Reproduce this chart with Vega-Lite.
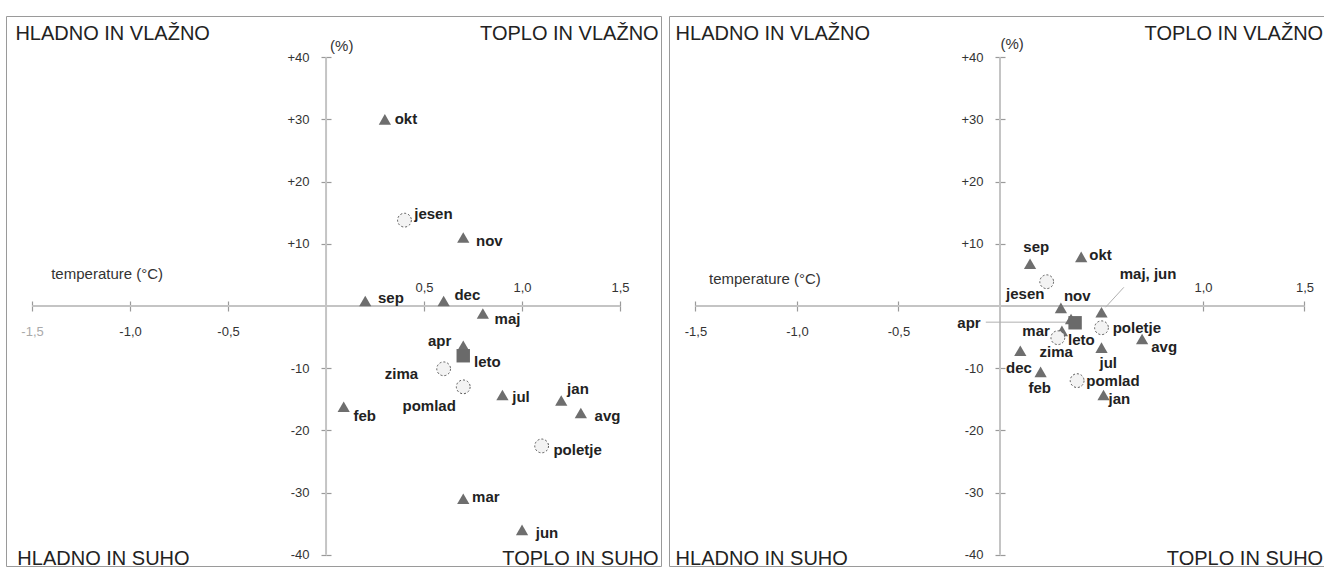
{
  "$schema": "https://vega.github.io/schema/vega-lite/v6.json",
  "background": "white",
  "padding": {"left": 5, "top": 15, "right": 0, "bottom": 0},
  "spacing": 6,
  "config": {
    "font": "Liberation Sans",
    "view": {"stroke": "#9a9a9a", "strokeWidth": 1},
    "axis": {"grid": false, "domain": false, "title": null, "tickColor": "#9a9a9a", "tickWidth": 1.2, "tickSize": 5, "labelFont": "Liberation Sans", "labelFontSize": 13, "labelColor": "#333333"}
  },
  "datasets": {
    "pts": [
      {"panel": "L", "kind": "m", "name": "okt", "x": 0.30, "y": 30, "lx": 0.35, "ly": 30},
      {"panel": "L", "kind": "m", "name": "nov", "x": 0.70, "y": 11, "lx": 0.765, "ly": 10.5},
      {"panel": "L", "kind": "m", "name": "sep", "x": 0.20, "y": 0.8, "lx": 0.265, "ly": 1.3},
      {"panel": "L", "kind": "m", "name": "dec", "x": 0.60, "y": 0.8, "lx": 0.655, "ly": 1.8},
      {"panel": "L", "kind": "m", "name": "maj", "x": 0.80, "y": -1.2, "lx": 0.86, "ly": -2.1},
      {"panel": "L", "kind": "m", "name": "apr", "x": 0.70, "y": -6.4, "lx": 0.52, "ly": -5.6},
      {"panel": "L", "kind": "m", "name": "jul", "x": 0.90, "y": -14.3, "lx": 0.95, "ly": -14.6},
      {"panel": "L", "kind": "m", "name": "jan", "x": 1.20, "y": -15.2, "lx": 1.23, "ly": -13.4},
      {"panel": "L", "kind": "m", "name": "avg", "x": 1.30, "y": -17.2, "lx": 1.37, "ly": -17.7},
      {"panel": "L", "kind": "m", "name": "feb", "x": 0.09, "y": -16.2, "lx": 0.14, "ly": -17.7},
      {"panel": "L", "kind": "m", "name": "mar", "x": 0.70, "y": -31, "lx": 0.745, "ly": -30.7},
      {"panel": "L", "kind": "m", "name": "jun", "x": 1.00, "y": -36, "lx": 1.07, "ly": -36.5},
      {"panel": "L", "kind": "s", "name": "jesen", "x": 0.40, "y": 13.8, "lx": 0.45, "ly": 14.8},
      {"panel": "L", "kind": "s", "name": "zima", "x": 0.60, "y": -10.1, "lx": 0.30, "ly": -11},
      {"panel": "L", "kind": "s", "name": "pomlad", "x": 0.70, "y": -13, "lx": 0.39, "ly": -16},
      {"panel": "L", "kind": "s", "name": "poletje", "x": 1.10, "y": -22.5, "lx": 1.16, "ly": -23.2},
      {"panel": "L", "kind": "y", "name": "leto", "x": 0.70, "y": -8, "lx": 0.755, "ly": -9},
      {"panel": "R", "kind": "m", "name": "sep", "x": 0.148, "y": 6.8, "lx": 0.115, "ly": 9.5},
      {"panel": "R", "kind": "m", "name": "okt", "x": 0.40, "y": 7.9, "lx": 0.44, "ly": 8.2},
      {"panel": "R", "kind": "m", "name": "nov", "x": 0.30, "y": -0.3, "lx": 0.315, "ly": 1.6},
      {"panel": "R", "kind": "m", "name": "maj, jun", "x": 0.50, "y": -1, "lx": 0.59, "ly": 5.1},
      {"panel": "R", "kind": "m", "name": "apr", "x": 0.35, "y": -2.1, "lx": -0.21, "ly": -2.7},
      {"panel": "R", "kind": "m", "name": "mar", "x": 0.305, "y": -4, "lx": 0.11, "ly": -4},
      {"panel": "R", "kind": "m", "name": "avg", "x": 0.70, "y": -5.3, "lx": 0.745, "ly": -6.6},
      {"panel": "R", "kind": "m", "name": "jul", "x": 0.50, "y": -6.7, "lx": 0.49, "ly": -9.1},
      {"panel": "R", "kind": "m", "name": "dec", "x": 0.10, "y": -7.2, "lx": 0.03, "ly": -9.9},
      {"panel": "R", "kind": "m", "name": "feb", "x": 0.20, "y": -10.6, "lx": 0.14, "ly": -13.2},
      {"panel": "R", "kind": "m", "name": "jan", "x": 0.51, "y": -14.3, "lx": 0.535, "ly": -15},
      {"panel": "R", "kind": "s", "name": "jesen", "x": 0.23, "y": 3.9, "lx": 0.03, "ly": 1.9},
      {"panel": "R", "kind": "s", "name": "poletje", "x": 0.50, "y": -3.5, "lx": 0.555, "ly": -3.5},
      {"panel": "R", "kind": "s", "name": "zima", "x": 0.285, "y": -5.1, "lx": 0.195, "ly": -7.4},
      {"panel": "R", "kind": "s", "name": "pomlad", "x": 0.38, "y": -12, "lx": 0.425, "ly": -12.1},
      {"panel": "R", "kind": "y", "name": "leto", "x": 0.37, "y": -2.7, "lx": 0.335, "ly": -5.5}
    ],
    "lines": [
      {"x": -1.5, "x2": 1.5, "y": 0, "y2": 0},
      {"x": 0, "x2": 0, "y": -40, "y2": 40}
    ],
    "leaders": [
      {"panel": "R", "x": -0.07, "x2": 0.33, "y": -2.6, "y2": -2.6},
      {"panel": "R", "x": 0.52, "x2": 0.61, "y": -0.2, "y2": 3.0}
    ],
    "corners": [
      {"panel": "L", "side": "left", "text": "HLADNO IN VLAŽNO", "x": -1.585, "y": 43.7},
      {"panel": "L", "side": "right", "text": "TOPLO IN VLAŽNO", "x": 1.697, "y": 43.7},
      {"panel": "L", "side": "left", "text": "HLADNO IN SUHO", "x": -1.575, "y": -40.7},
      {"panel": "L", "side": "right", "text": "TOPLO IN SUHO", "x": 1.697, "y": -40.7},
      {"panel": "R", "side": "left", "text": "HLADNO IN VLAŽNO", "x": -1.598, "y": 43.7},
      {"panel": "R", "side": "right", "text": "TOPLO IN VLAŽNO", "x": 1.592, "y": 43.7},
      {"panel": "R", "side": "left", "text": "HLADNO IN SUHO", "x": -1.598, "y": -40.7},
      {"panel": "R", "side": "right", "text": "TOPLO IN SUHO", "x": 1.592, "y": -40.7}
    ],
    "notes": [
      {"panel": "L", "text": "(%)", "x": 0.08, "y": 41.8},
      {"panel": "L", "text": "temperature (°C)", "x": -1.117, "y": 5.1},
      {"panel": "R", "text": "(%)", "x": 0.06, "y": 42.1},
      {"panel": "R", "text": "temperature (°C)", "x": -1.158, "y": 4.3}
    ]
  },
  "hconcat": [
    {
      "width": 655,
      "height": 550,
      "resolve": {"axis": {"x": "independent", "y": "independent"}},
      "layer": [
        {
          "data": {"name": "lines"},
          "mark": {"type": "rule", "color": "#c4c4c4", "strokeWidth": 2},
          "encoding": {
            "x": {"field": "x", "type": "quantitative", "scale": {"domain": [-1.633, 1.709], "nice": false, "zero": false},
              "axis": {"orient": "bottom", "offset": -260, "values": [-1.5, -1, -0.5, 0.5, 1, 1.5], "labelPadding": 14,
                "labelExpr": "datum.value < 0 ? '-' + replace(format(abs(datum.value), '.1f'), '.', ',') : ''",
                "labelColor": {"condition": {"test": "datum.value == -1.5", "value": "#aaaaaa"}, "value": "#333333"}}},
            "x2": {"field": "x2"},
            "y": {"field": "y", "type": "quantitative", "scale": {"domain": [-41.8, 46.62], "nice": false, "zero": false},
              "axis": {"orient": "left", "offset": -320, "values": [-40, -30, -20, -10, 10, 20, 30, 40], "labelPadding": 12,
                "labelExpr": "datum.value > 0 ? '+' + datum.value : '' + datum.value"}},
            "y2": {"field": "y2"}
          }
        },
        {
          "data": {"name": "pts"},
          "transform": [{"filter": "datum.panel == 'L' && datum.kind == 'm'"}],
          "mark": {"type": "point", "shape": "triangle-up", "filled": true, "size": 150, "color": "#6e6e6e", "opacity": 1},
          "encoding": {
            "x": {"field": "x", "type": "quantitative", "scale": {"domain": [-1.633, 1.709], "nice": false, "zero": false},
              "axis": {"orient": "top", "offset": -290, "values": [-1.5, -1, -0.5, 0.5, 1, 1.5], "labelPadding": 7,
                "labelExpr": "datum.value > 0 ? replace(format(datum.value, '.1f'), '.', ',') : ''"}},
            "y": {"field": "y", "type": "quantitative", "scale": {"domain": [-41.8, 46.62], "nice": false, "zero": false},
              "axis": {"orient": "right", "offset": -335, "values": [-40, -30, -20, -10, 10, 20, 30, 40], "labels": false}}
          }
        },
        {
          "data": {"name": "pts"},
          "transform": [{"filter": "datum.panel == 'L' && datum.kind == 'y'"}],
          "mark": {"type": "point", "shape": "square", "filled": true, "size": 180, "color": "#6a6a6a", "opacity": 1},
          "encoding": {
            "x": {"field": "x", "type": "quantitative", "scale": {"domain": [-1.633, 1.709], "nice": false, "zero": false}, "axis": null},
            "y": {"field": "y", "type": "quantitative", "scale": {"domain": [-41.8, 46.62], "nice": false, "zero": false}, "axis": null}
          }
        },
        {
          "data": {"name": "pts"},
          "transform": [{"filter": "datum.panel == 'L' && datum.kind == 's'"}],
          "mark": {"type": "point", "shape": "circle", "filled": true, "size": 190, "fill": "#f3f3f3", "stroke": "#555555", "strokeWidth": 1, "strokeDash": [2, 2], "opacity": 1},
          "encoding": {
            "x": {"field": "x", "type": "quantitative", "scale": {"domain": [-1.633, 1.709], "nice": false, "zero": false}, "axis": null},
            "y": {"field": "y", "type": "quantitative", "scale": {"domain": [-41.8, 46.62], "nice": false, "zero": false}, "axis": null}
          }
        },
        {
          "data": {"name": "pts"},
          "transform": [{"filter": "datum.panel == 'L'"}],
          "mark": {"type": "text", "align": "left", "baseline": "middle", "fontSize": 15, "fontWeight": "bold", "color": "#222222", "font": "Liberation Sans"},
          "encoding": {
            "x": {"field": "lx", "type": "quantitative", "scale": {"domain": [-1.633, 1.709], "nice": false, "zero": false}, "axis": null},
            "y": {"field": "ly", "type": "quantitative", "scale": {"domain": [-41.8, 46.62], "nice": false, "zero": false}, "axis": null},
            "text": {"field": "name"}
          }
        },
        {
          "data": {"name": "corners"},
          "transform": [{"filter": "datum.panel == 'L' && datum.side == 'left'"}],
          "mark": {"type": "text", "align": "left", "baseline": "middle", "fontSize": 20, "color": "#222222", "font": "Liberation Sans"},
          "encoding": {
            "x": {"field": "x", "type": "quantitative", "scale": {"domain": [-1.633, 1.709], "nice": false, "zero": false}, "axis": null},
            "y": {"field": "y", "type": "quantitative", "scale": {"domain": [-41.8, 46.62], "nice": false, "zero": false}, "axis": null},
            "text": {"field": "text"}
          }
        },
        {
          "data": {"name": "corners"},
          "transform": [{"filter": "datum.panel == 'L' && datum.side == 'right'"}],
          "mark": {"type": "text", "align": "right", "baseline": "middle", "fontSize": 20, "color": "#222222", "font": "Liberation Sans"},
          "encoding": {
            "x": {"field": "x", "type": "quantitative", "scale": {"domain": [-1.633, 1.709], "nice": false, "zero": false}, "axis": null},
            "y": {"field": "y", "type": "quantitative", "scale": {"domain": [-41.8, 46.62], "nice": false, "zero": false}, "axis": null},
            "text": {"field": "text"}
          }
        },
        {
          "data": {"name": "notes"},
          "transform": [{"filter": "datum.panel == 'L'"}],
          "mark": {"type": "text", "align": "center", "baseline": "middle", "fontSize": 15, "color": "#333333", "font": "Liberation Sans"},
          "encoding": {
            "x": {"field": "x", "type": "quantitative", "scale": {"domain": [-1.633, 1.709], "nice": false, "zero": false}, "axis": null},
            "y": {"field": "y", "type": "quantitative", "scale": {"domain": [-41.8, 46.62], "nice": false, "zero": false}, "axis": null},
            "text": {"field": "text"}
          }
        }
      ]
    },
    {
      "width": 656,
      "height": 550,
      "resolve": {"axis": {"x": "independent", "y": "independent"}},
      "layer": [
        {
          "data": {"name": "lines"},
          "mark": {"type": "rule", "color": "#c4c4c4", "strokeWidth": 2},
          "encoding": {
            "x": {"field": "x", "type": "quantitative", "scale": {"domain": [-1.6305, 1.601], "nice": false, "zero": false},
              "axis": {"orient": "bottom", "offset": -260, "values": [-1.5, -1, -0.5, 1, 1.5], "labelPadding": 14,
                "labelExpr": "datum.value < 0 ? '-' + replace(format(abs(datum.value), '.1f'), '.', ',') : ''"}},
            "x2": {"field": "x2"},
            "y": {"field": "y", "type": "quantitative", "scale": {"domain": [-41.8, 46.62], "nice": false, "zero": false},
              "axis": {"orient": "left", "offset": -331, "values": [-40, -30, -20, -10, 10, 20, 30, 40], "labelPadding": 12,
                "labelExpr": "datum.value > 0 ? '+' + datum.value : '' + datum.value"}},
            "y2": {"field": "y2"}
          }
        },
        {
          "data": {"name": "leaders"},
          "mark": {"type": "rule", "color": "#b0b0b0", "strokeWidth": 1},
          "encoding": {
            "x": {"field": "x", "type": "quantitative", "scale": {"domain": [-1.6305, 1.601], "nice": false, "zero": false}, "axis": null},
            "x2": {"field": "x2"},
            "y": {"field": "y", "type": "quantitative", "scale": {"domain": [-41.8, 46.62], "nice": false, "zero": false}, "axis": null},
            "y2": {"field": "y2"}
          }
        },
        {
          "data": {"name": "pts"},
          "transform": [{"filter": "datum.panel == 'R' && datum.kind == 'm'"}],
          "mark": {"type": "point", "shape": "triangle-up", "filled": true, "size": 150, "color": "#6e6e6e", "opacity": 1},
          "encoding": {
            "x": {"field": "x", "type": "quantitative", "scale": {"domain": [-1.6305, 1.601], "nice": false, "zero": false},
              "axis": {"orient": "top", "offset": -290, "values": [-1.5, -1, -0.5, 1, 1.5], "labelPadding": 7,
                "labelExpr": "datum.value > 0 ? replace(format(datum.value, '.1f'), '.', ',') : ''"}},
            "y": {"field": "y", "type": "quantitative", "scale": {"domain": [-41.8, 46.62], "nice": false, "zero": false},
              "axis": {"orient": "right", "offset": -325, "values": [-40, -30, -20, -10, 10, 20, 30, 40], "labels": false}}
          }
        },
        {
          "data": {"name": "pts"},
          "transform": [{"filter": "datum.panel == 'R' && datum.kind == 'y'"}],
          "mark": {"type": "point", "shape": "square", "filled": true, "size": 180, "color": "#6a6a6a", "opacity": 1},
          "encoding": {
            "x": {"field": "x", "type": "quantitative", "scale": {"domain": [-1.6305, 1.601], "nice": false, "zero": false}, "axis": null},
            "y": {"field": "y", "type": "quantitative", "scale": {"domain": [-41.8, 46.62], "nice": false, "zero": false}, "axis": null}
          }
        },
        {
          "data": {"name": "pts"},
          "transform": [{"filter": "datum.panel == 'R' && datum.kind == 's'"}],
          "mark": {"type": "point", "shape": "circle", "filled": true, "size": 190, "fill": "#f3f3f3", "stroke": "#555555", "strokeWidth": 1, "strokeDash": [2, 2], "opacity": 1},
          "encoding": {
            "x": {"field": "x", "type": "quantitative", "scale": {"domain": [-1.6305, 1.601], "nice": false, "zero": false}, "axis": null},
            "y": {"field": "y", "type": "quantitative", "scale": {"domain": [-41.8, 46.62], "nice": false, "zero": false}, "axis": null}
          }
        },
        {
          "data": {"name": "pts"},
          "transform": [{"filter": "datum.panel == 'R'"}],
          "mark": {"type": "text", "align": "left", "baseline": "middle", "fontSize": 15, "fontWeight": "bold", "color": "#222222", "font": "Liberation Sans"},
          "encoding": {
            "x": {"field": "lx", "type": "quantitative", "scale": {"domain": [-1.6305, 1.601], "nice": false, "zero": false}, "axis": null},
            "y": {"field": "ly", "type": "quantitative", "scale": {"domain": [-41.8, 46.62], "nice": false, "zero": false}, "axis": null},
            "text": {"field": "name"}
          }
        },
        {
          "data": {"name": "corners"},
          "transform": [{"filter": "datum.panel == 'R' && datum.side == 'left'"}],
          "mark": {"type": "text", "align": "left", "baseline": "middle", "fontSize": 20, "color": "#222222", "font": "Liberation Sans"},
          "encoding": {
            "x": {"field": "x", "type": "quantitative", "scale": {"domain": [-1.6305, 1.601], "nice": false, "zero": false}, "axis": null},
            "y": {"field": "y", "type": "quantitative", "scale": {"domain": [-41.8, 46.62], "nice": false, "zero": false}, "axis": null},
            "text": {"field": "text"}
          }
        },
        {
          "data": {"name": "corners"},
          "transform": [{"filter": "datum.panel == 'R' && datum.side == 'right'"}],
          "mark": {"type": "text", "align": "right", "baseline": "middle", "fontSize": 20, "color": "#222222", "font": "Liberation Sans"},
          "encoding": {
            "x": {"field": "x", "type": "quantitative", "scale": {"domain": [-1.6305, 1.601], "nice": false, "zero": false}, "axis": null},
            "y": {"field": "y", "type": "quantitative", "scale": {"domain": [-41.8, 46.62], "nice": false, "zero": false}, "axis": null},
            "text": {"field": "text"}
          }
        },
        {
          "data": {"name": "notes"},
          "transform": [{"filter": "datum.panel == 'R'"}],
          "mark": {"type": "text", "align": "center", "baseline": "middle", "fontSize": 15, "color": "#333333", "font": "Liberation Sans"},
          "encoding": {
            "x": {"field": "x", "type": "quantitative", "scale": {"domain": [-1.6305, 1.601], "nice": false, "zero": false}, "axis": null},
            "y": {"field": "y", "type": "quantitative", "scale": {"domain": [-41.8, 46.62], "nice": false, "zero": false}, "axis": null},
            "text": {"field": "text"}
          }
        }
      ]
    }
  ]
}
